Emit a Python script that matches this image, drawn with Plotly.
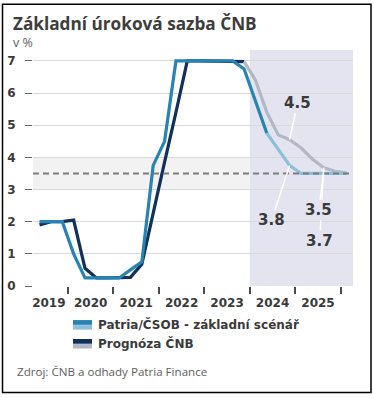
import plotly.graph_objects as go

# ---------------- data ----------------
quarters_patria_actual = ["2019Q2","2019Q3","2019Q4","2020Q1","2020Q2","2020Q3","2020Q4",
                          "2021Q1","2021Q2","2021Q3","2021Q4","2022Q1","2022Q2","2022Q3",
                          "2022Q4","2023Q1","2023Q2","2023Q3","2023Q4","2024Q1","2024Q2"]
patria_actual = [2.0, 2.0, 2.0, 1.0, 0.25, 0.25, 0.25, 0.25, 0.5, 0.75, 3.75, 4.5, 7.0, 7.0,
                 7.0, 7.0, 7.0, 7.0, 6.75, 5.75, 4.75]

quarters_patria_fc = ["2024Q2","2024Q3","2024Q4","2025Q1","2025Q2","2025Q3","2025Q4","2026Q1"]
patria_fc = [4.75, 4.25, 3.75, 3.5, 3.5, 3.5, 3.5, 3.5]

quarters_cnb_actual = ["2019Q2","2019Q3","2019Q4","2020Q1","2020Q2","2020Q3","2020Q4",
                       "2021Q1","2021Q2","2021Q3","2021Q4","2022Q1","2022Q2","2022Q3",
                       "2022Q4","2023Q1","2023Q2","2023Q3","2023Q4"]
cnb_actual = [1.9, 2.0, 2.0, 2.05, 0.55, 0.25, 0.25, 0.25, 0.27, 0.68, 2.3, 3.85, 5.4, 7.0,
              7.0, 7.0, 7.0, 7.0, 6.98]

quarters_cnb_fc = ["2023Q4","2024Q1","2024Q2","2024Q3","2024Q4","2025Q1","2025Q2","2025Q3",
                   "2025Q4","2026Q1"]
cnb_fc = [6.98, 6.4, 5.4, 4.7, 4.55, 4.3, 3.95, 3.68, 3.57, 3.52]

year_labels = ["2019", "2020", "2021", "2022", "2023", "2024", "2025"]
year_label_pos = [2019.58, 2020.5, 2021.5, 2022.5, 2023.5, 2024.5, 2025.5]
year_bounds = [2020, 2021, 2022, 2023, 2024, 2025, 2026]
y_ticks = [0, 1, 2, 3, 4, 5, 6, 7]

neutral_rate = 3.5
band_low, band_high = 3.0, 4.0
forecast_start = 2024.0
x_range = [2019.231, 2026.27]
y_range = [0, 7.34]

callouts = [  # (text, quarter, value, dx, dy)
    ("4.5", "2024Q4", 4.55, 8, -37),
    ("3.8", "2024Q4", 3.75, -18, 55),
    ("3.7", "2025Q3", 3.68, -4, 73),
    ("3.5", "2025Q3", 3.5, -5, 37),
]

def qpos(q):
    y, n = q.split("Q")
    return int(y) + (int(n) - 0.5) / 4.0

# ---------------- colours ----------------
C_TEAL = "#2683b2"
C_LIGHT = "#8cc0da"
C_NAVY = "#12305a"
C_GREY = "#b3b7c6"
C_SHADE = "#e4e4f0"
C_BAND = "#f2f2f2"
C_TEXT = "#3a3a3a"

FONT_B = "DejaVu Sans"

fig = go.Figure()

fig.add_trace(go.Scatter(x=[qpos(q) for q in quarters_cnb_actual], y=cnb_actual, mode="lines",
                         line=dict(color=C_NAVY, width=3.2), hoverinfo="skip", showlegend=False))
fig.add_trace(go.Scatter(x=[qpos(q) for q in quarters_cnb_fc], y=cnb_fc, mode="lines",
                         line=dict(color=C_GREY, width=3.2), hoverinfo="skip", showlegend=False))
fig.add_trace(go.Scatter(x=[qpos(q) for q in quarters_patria_actual], y=patria_actual, mode="lines",
                         line=dict(color=C_TEAL, width=3.2), hoverinfo="skip", showlegend=False))
fig.add_trace(go.Scatter(x=[qpos(q) for q in quarters_patria_fc], y=patria_fc, mode="lines",
                         line=dict(color=C_LIGHT, width=3.2), hoverinfo="skip", showlegend=False))

shapes = []
# band 3-4
shapes.append(dict(type="rect", xref="x", yref="y", x0=x_range[0], x1=forecast_start,
                   y0=band_low, y1=band_high, fillcolor=C_BAND, line_width=0, layer="below"))
# forecast shading
shapes.append(dict(type="rect", xref="x", yref="paper", x0=forecast_start, x1=x_range[1],
                   y0=0, y1=1, fillcolor=C_SHADE, line_width=0, layer="below"))
# neutral-rate dashed line
shapes.append(dict(type="line", xref="paper", yref="y", x0=0, x1=1, y0=neutral_rate, y1=neutral_rate,
                   line=dict(color="#7c7c7c", width=2, dash="6px,4px"), layer="above"))

# layout geometry in pixels
W, H = 374, 398
PL, PR, PT, PB = 33, 353, 49.5, 286.5
def px(x):
    return (x - PL) / (PR - PL)
def py(y):
    return (PB - y) / (PB - PT)

# border
shapes.append(dict(type="rect", xref="paper", yref="paper", x0=px(2.5), x1=px(371), y0=py(393.5), y1=py(3.5),
                   line=dict(color="black", width=1.5), fillcolor="rgba(0,0,0,0)", layer="above"))

# legend swatches
legend_items = [("Patria/ČSOB - základní scénář", C_TEAL, C_LIGHT, 325.5),
                ("Prognóza ČNB", C_NAVY, C_GREY, 344.5)]
annotations = []
for label, c1, c2, yc in legend_items:
    shapes.append(dict(type="rect", xref="paper", yref="paper", x0=px(73), x1=px(92),
                       y0=py(yc), y1=py(yc - 4.8), fillcolor=c1, line_width=0))
    shapes.append(dict(type="rect", xref="paper", yref="paper", x0=px(73), x1=px(92),
                       y0=py(yc + 4.8), y1=py(yc + 0.3), fillcolor=c2, line_width=0))
    annotations.append(dict(xref="paper", yref="paper", x=px(95.5), y=py(yc), text="<b>%s</b>" % label,
                            showarrow=False, xanchor="left", yanchor="middle",
                            font=dict(family=FONT_B, size=12, color=C_TEXT)))

# title, unit, source
annotations.append(dict(xref="paper", yref="paper", x=px(11), y=py(22.5), text="<b>Základní úroková sazba ČNB</b>",
                        showarrow=False, xanchor="left", yanchor="middle",
                        font=dict(family="Open Sans", size=17.2, color="#3d3d3d")))
annotations.append(dict(xref="paper", yref="paper", x=px(11), y=py(42), text="v %",
                        showarrow=False, xanchor="left", yanchor="middle",
                        font=dict(family="Open Sans", size=12.5, color="#606060")))
annotations.append(dict(xref="paper", yref="paper", x=px(15), y=py(372), text="Zdroj: ČNB a odhady Patria Finance",
                        showarrow=False, xanchor="left", yanchor="middle",
                        font=dict(family="Open Sans", size=11.6, color="#606060")))

# callouts
for text, q, v, dx, dy in callouts:
    annotations.append(dict(xref="x", yref="y", x=qpos(q), y=v, text="<b>%s</b>" % text,
                            showarrow=True, arrowhead=0, arrowwidth=1.5, arrowcolor="white",
                            ax=dx, ay=dy, standoff=0, startstandoff=0,
                            bgcolor=C_SHADE if text == "3.5" else None,
                            font=dict(family=FONT_B, size=15, color=C_TEXT)))

fig.update_layout(
    width=W, height=H,
    margin=dict(l=PL, r=W - PR, t=PT, b=H - PB, pad=0, autoexpand=False),
    paper_bgcolor="white", plot_bgcolor="white",
    showlegend=False,
    shapes=shapes, annotations=annotations,
    xaxis=dict(range=x_range, tickmode="array", tickvals=year_label_pos, ticktext=year_labels,
               ticks="", showgrid=False, zeroline=False, showline=False, automargin=False,
               tickfont=dict(family=FONT_B, size=12, color=C_TEXT, weight="bold"),
               ticklabelstandoff=8,
               minor=dict(tickmode="array", tickvals=year_bounds, ticks="outside", ticklen=7,
                          tickwidth=2, tickcolor="#4a4a4a", showgrid=False)),
    yaxis=dict(range=y_range, tickmode="array", tickvals=y_ticks, ticks="outside", ticklen=7,
               tickwidth=1, tickcolor="#6a6a6a", showgrid=True, gridcolor="#d9d9d9", gridwidth=1,
               zeroline=False, showline=False, ticklabelstandoff=7, automargin=False,
               tickfont=dict(family=FONT_B, size=12, color=C_TEXT, weight="bold")),
)

fig.write_html("out.html", config={"displayModeBar": False},
               post_script="document.body.style.margin='0';document.body.style.padding='0';")
